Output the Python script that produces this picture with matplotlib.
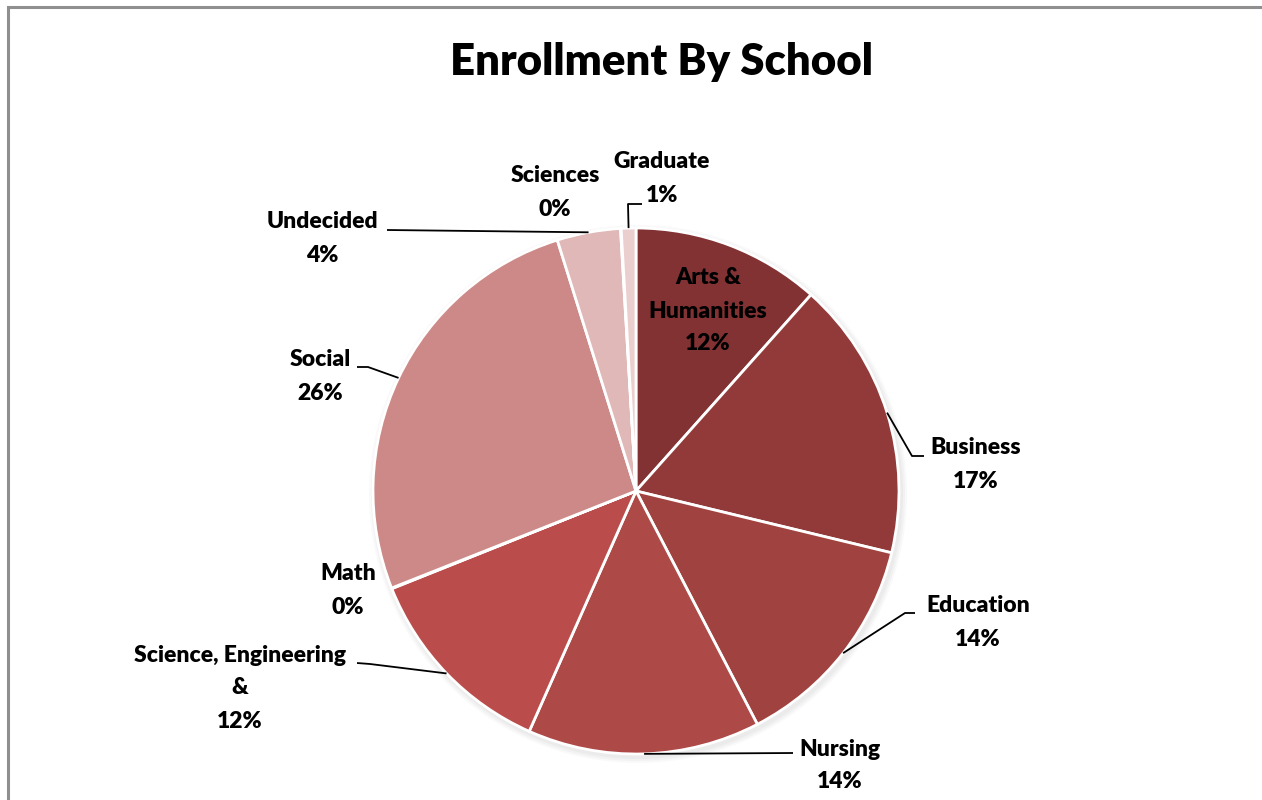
import matplotlib
matplotlib.use("Agg")
import matplotlib.pyplot as plt
import numpy as np
from matplotlib.patches import Circle

# ---- data ----
categories = ["Arts &\nHumanities", "Business", "Education", "Nursing",
              "Science, Engineering\n&", "Math", "Social", "Undecided",
              "Sciences", "Graduate"]
values = [11.6, 17.2, 13.6, 14.3, 12.3, 0.04, 26.2, 3.9, 0.04, 0.9]
colors = ["#833233", "#923A39", "#A0423F", "#AD4946", "#BA4D4B",
          "#C46A67", "#CD8987", "#DFB8B7", "#E6C6C5", "#EBCFCF"]
title = "Enrollment By School"

W, H = 1262, 800
FONT = ["Lato", "DejaVu Sans"]

fig = plt.figure(figsize=(W / 100, H / 100), dpi=100)
ax = fig.add_axes([0, 0, 1, 1])
ax.set_xlim(0, W)
ax.set_ylim(0, H)
ax.set_aspect("equal")
ax.axis("off")


def P(x, y):
    return (x, H - y)


cx, cy = P(636, 491)
R = 263

# chart border (partially visible, as in the reference)
ax.plot([8, 8, W + 5], [-5, H - 7, H - 7], color="#8f8f8f", lw=2.2,
        solid_joinstyle="miter", zorder=1)

# soft shadow
for k, a in enumerate([0.06, 0.05, 0.04]):
    ax.add_patch(Circle((cx + 2, cy - 3), R + 2 + k * 2, color="#777777",
                        alpha=a, lw=0, zorder=2))

wedges, _ = ax.pie(values, colors=colors, startangle=90, counterclock=False,
                   center=(cx, cy), radius=R, frame=True,
                   wedgeprops=dict(edgecolor="white", linewidth=2,
                                   zorder=3))
ax.set_xlim(0, W)
ax.set_ylim(0, H)
ax.axis("off")

total = sum(values)
pcts = [f"{round(v / total * 100):.0f}%" for v in values]

# cumulative mid angles (clockwise from top)
cum = np.cumsum([0] + values[:-1])
mid_frac = (cum + np.array(values) / 2) / total


def edge_point(i):
    th = mid_frac[i] * 2 * np.pi
    return cx + R * np.sin(th), cy + R * np.cos(th)


# label placement: (text center x, first-line y), leader path points after the edge
layout = {
    0: dict(pos=(708, 278), leader=None),
    1: dict(pos=(976, 448), leader=[(912, 456), (924, 456)]),
    2: dict(pos=(978, 606), leader=[(905, 613), (915, 613)]),
    3: dict(pos=(840, 749), leader=[(793, 753)]),
    4: dict(pos=(240, 655), leader=[(370, 664), (357, 663)]),
    5: dict(pos=(348, 574), leader=None),
    6: dict(pos=(320, 360), leader=[(368, 367), (357, 367)]),
    7: dict(pos=(322, 222), leader=[(387, 230)]),
    8: dict(pos=(555, 176), leader=None),
    9: dict(pos=(662, 162), leader=[(628, 204), (642, 204)]),
}

LS = 33  # pixel line spacing
for i, cat in enumerate(categories):
    lay = layout[i]
    lines = cat.split("\n") + [pcts[i]]
    x0, y0 = lay["pos"]
    for j, t in enumerate(lines):
        ax.text(*P(x0, y0 + j * LS), t, ha="center", va="center",
                fontsize=16.5, fontweight="heavy", family=FONT,
                color="black", zorder=6)
    if lay["leader"]:
        ex, ey = edge_point(i)
        pts = [(ex, ey)] + [P(*p) for p in lay["leader"]]
        xs, ys = zip(*pts)
        ax.plot(xs, ys, color="black", lw=1.3, zorder=5,
                solid_capstyle="butt")

ax.text(*P(662, 62), title, ha="center", va="center", fontsize=31.5,
        fontweight="heavy", family=FONT, color="black")

fig.savefig("out.png", dpi=100)
